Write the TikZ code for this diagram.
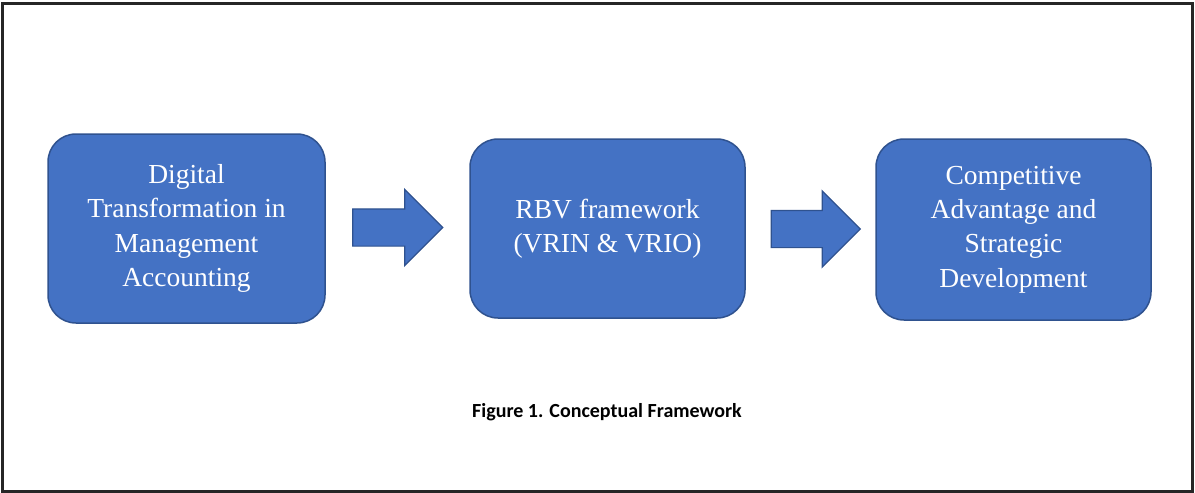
\documentclass[tikz,border=0pt]{standalone}
\usepackage{fontspec}
\setmainfont{Liberation Serif}
\newfontfamily\capfont{Carlito}
\usetikzlibrary{shapes.arrows}
\definecolor{boxblue}{HTML}{4472C4}
\definecolor{boxline}{HTML}{2F528F}
\begin{document}
\begin{tikzpicture}[x=1pt, y=-1pt,
	block/.style={draw=boxline, line width=1.5pt, fill=boxblue, rounded corners=28pt, text=white, align=center, inner sep=0pt, font=\fontsize{27.5}{34.3}\selectfont},
	flow/.style={single arrow, draw=boxline, line width=1.2pt, fill=boxblue, inner xsep=0pt, inner ysep=18pt, minimum height=90pt, single arrow head extend=19.5pt}]
		\useasboundingbox (0,0) rectangle (1195,493);
		\draw[line width=3pt, black!85] (2.5,3) rectangle (1192,491);
		\node[block, minimum width=277pt, minimum height=189pt] (Digital) at (186.5,228.5) {Digital\\Transformation in\\Management\\Accounting};
		\node[block, minimum width=275pt, minimum height=179pt] (RBV) at (607.5,228.5) {RBV framework\\(VRIN \& VRIO)};
		\node[block, minimum width=275pt, minimum height=181pt] (Advantage) at (1013.5,229.5) {Competitive\\Advantage and\\Strategic\\Development};
		% Arrows
		\node[flow] (Arrow1) at (388.5,227.5) {};
		\node[flow, minimum height=89pt] (Arrow2) at (806.5,229) {};
		% Caption
		\node[font=\capfont\bfseries\fontsize{20}{24}\selectfont] (Caption) at (607,412) {Figure 1. Conceptual Framework};
	\end{tikzpicture}
\end{document}
